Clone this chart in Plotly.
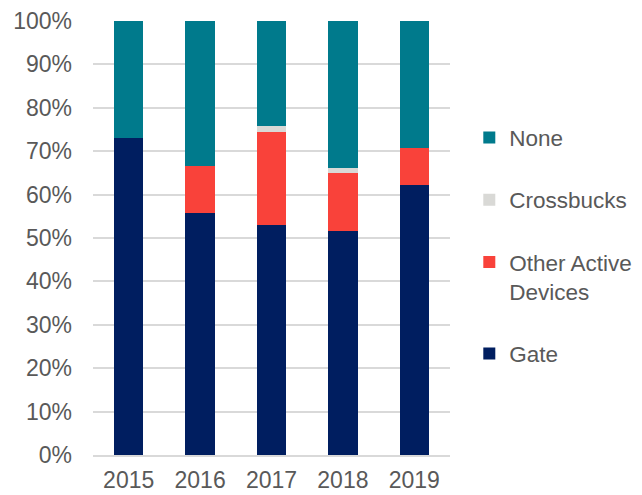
import plotly.graph_objects as go

years = ["2015", "2016", "2017", "2018", "2019"]
gate = [73.1, 55.8, 53.0, 51.7, 62.1]
other_active = [0.0, 10.8, 21.5, 13.2, 8.6]
crossbucks = [0.0, 0.0, 1.4, 1.3, 0.0]
none = [26.9, 33.4, 24.1, 33.8, 29.3]

# name, values, colour, legend rank (None at top of the legend)
series = [
    ("Gate", gate, "#001E60", 4),
    ("Other Active<br>Devices", other_active, "#F9423A", 3),
    ("Crossbucks", crossbucks, "#D9D9D6", 2),
    ("None", none, "#007A8C", 1),
]

fig = go.Figure()
for name, vals, color, rank in series:
    fig.add_trace(go.Bar(
        x=years, y=vals, name=name, legendgroup=name, legendrank=rank,
        marker=dict(color=color, line=dict(width=0)),
        hovertemplate='%{x}: %{y:.1f}%<extra></extra>'
    ))

fig.update_layout(
    barmode='stack',
    bargap=0.59,
    width=642, height=495,
    margin=dict(l=93, r=192, t=21, b=40, autoexpand=False),
    plot_bgcolor='white', paper_bgcolor='white',
    font=dict(family='Liberation Sans, Arial', size=23, color='#595959'),
    showlegend=True,
    legend=dict(
        traceorder='grouped', tracegroupgap=30,
        x=0.731, xref='container', xanchor='left',
        y=0.765, yref='container', yanchor='top',
        font=dict(size=22.5, color='#595959'),
        itemwidth=30, valign='top', maxheight=1,
    ),
    yaxis=dict(
        range=[0, 100], dtick=10, ticksuffix='%',
        showgrid=True, gridcolor='#D9D9D9', gridwidth=1.5,
        zeroline=False, ticklabelstandoff=20, automargin=False,
    ),
    xaxis=dict(
        showline=True, linecolor='#D9D9D9', linewidth=1.5,
        tickangle=0, ticklabelstandoff=4, automargin=False,
    ),
)

fig.write_html("out.html", config={'displayModeBar': False},
               post_script="document.body.style.margin='0';")
